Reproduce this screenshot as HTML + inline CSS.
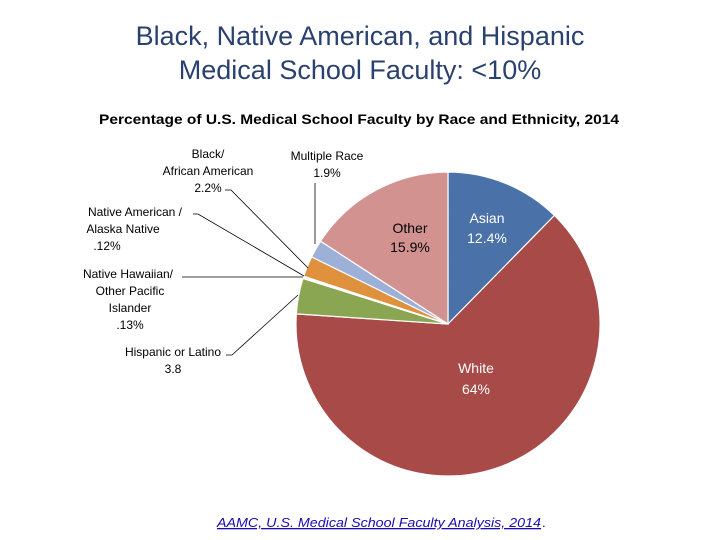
<!DOCTYPE html>
<html><head><meta charset="utf-8"><style>
body{margin:0;background:#fff;}
#wrap{position:relative;width:720px;height:540px;overflow:hidden;font-family:"Liberation Sans",sans-serif;}
.t{position:absolute;left:0;width:720px;text-align:center;color:#2a4170;font-size:27px;}
</style></head><body>
<div id="wrap">
<div class="t" style="top:21px">Black, Native American, and Hispanic</div>
<div class="t" style="top:55px">Medical School Faculty: &lt;10%</div>
<svg id="chart" width="720" height="540" style="position:absolute;left:0;top:0">
<text x="359" y="124" text-anchor="middle" font-size="14" font-weight="bold" fill="#000" textLength="520" lengthAdjust="spacingAndGlyphs" font-family="Liberation Sans, sans-serif">Percentage of U.S. Medical School Faculty by Race and Ethnicity, 2014</text>
<g id="slices"></g>
<g font-size="12" fill="#000" font-family="Liberation Sans, sans-serif">
<text text-anchor="middle"><tspan x="208" y="158">Black/</tspan><tspan x="208" y="175">African American</tspan><tspan x="208" y="192">2.2%</tspan></text>
<text text-anchor="middle"><tspan x="327" y="160">Multiple Race</tspan><tspan x="327" y="177">1.9%</tspan></text>
<text text-anchor="middle"><tspan x="135" y="216">Native American /</tspan><tspan x="123" y="233">Alaska Native</tspan><tspan x="107" y="250">.12%</tspan></text>
<text text-anchor="middle"><tspan x="128" y="278">Native Hawaiian/</tspan><tspan x="130" y="295">Other Pacific</tspan><tspan x="130" y="312">Islander</tspan><tspan x="130" y="329">.13%</tspan></text>
<text text-anchor="middle"><tspan x="173" y="356">Hispanic or Latino</tspan><tspan x="173" y="373">3.8</tspan></text>
<text text-anchor="middle" font-size="14"><tspan x="410" y="233">Other</tspan><tspan x="410" y="252">15.9%</tspan></text>
<text text-anchor="middle" font-size="14" fill="#fff"><tspan x="487" y="223">Asian</tspan><tspan x="487" y="243">12.4%</tspan></text>
<text text-anchor="middle" font-size="14" fill="#fff"><tspan x="476" y="373">White</tspan><tspan x="476" y="394">64%</tspan></text>
</g>
<g stroke="#000" stroke-width="0.8" fill="none">
<polyline points="225,190 231,190 308,268"/>
<polyline points="315,183 315,244"/>
<polyline points="193,214 198,214 304,276"/>
<polyline points="182,277 303,277"/>
<polyline points="226,355 232,355 298,295"/>
</g>
<text x="217" y="527" font-size="13" font-style="italic" fill="#1a0dab" text-decoration="underline" textLength="324" lengthAdjust="spacingAndGlyphs" font-family="Liberation Sans, sans-serif">AAMC, U.S. Medical School Faculty Analysis, 2014</text>
<text x="542" y="527" font-size="13" fill="#000">.</text>
</svg>
</div>
<script>
const categories=["Asian","White","Hispanic or Latino","Native Hawaiian","Native American","Black","Multiple Race","Other"];
const values=[12.4,64,3.8,0.13,0.12,2.2,1.9,15.9];
const colors=["#4a72a8","#a84a47","#8aa652","#7a5fa0","#4aa6c0","#e0913e","#9db1d8","#d29390"];
const cx=448,cy=324,r=152;
const g=document.getElementById('slices');
const total=values.reduce((a,b)=>a+b,0);
let a0=0;
values.forEach((v,i)=>{
  const a1=a0+v/total*2*Math.PI;
  const x0=cx+r*Math.sin(a0),y0=cy-r*Math.cos(a0),x1=cx+r*Math.sin(a1),y1=cy-r*Math.cos(a1);
  const p=document.createElementNS('http://www.w3.org/2000/svg','path');
  p.setAttribute('d',`M${cx},${cy}L${x0},${y0}A${r},${r} 0 ${a1-a0>Math.PI?1:0} 1 ${x1},${y1}Z`);
  p.setAttribute('fill',colors[i]);p.setAttribute('stroke','#fff');p.setAttribute('stroke-width','1.2');
  
  
  g.appendChild(p);a0=a1;
});
</script>
</body></html>
